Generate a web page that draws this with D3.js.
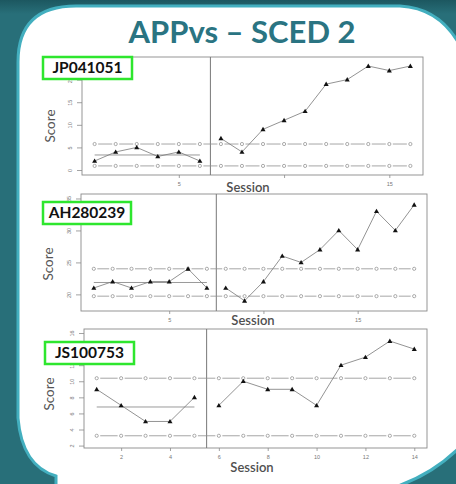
<!DOCTYPE html>
<html><head><meta charset="utf-8">
<script src="https://cdn.jsdelivr.net/npm/d3@7"></script>
<style>html,body{margin:0;padding:0;background:#286f79;}svg{display:block;}</style>
</head><body>
<script>
// ---- data ----
const titleText = "APPvs – SCED 2";
const participantIds = ["JP041051", "AH280239", "JS100753"];

const p1Baseline = [2, 4, 5, 3, 4, 2];
const p1Treatment = [7, 4, 9, 11, 13, 19, 20, 23, 22, 23];
const p1Bands = {mean: 3.33, upper: 5.75, lower: 0.91};
const p1YTicks = [0, 5, 10, 15, 20];
const p1XTicks = [5, 10, 15];
const p1XTickLabels = ["5", "", "15"];

const p2Baseline = [21, 22, 21, 22, 22, 24, 21];
const p2Treatment = [21, 19, 22, 26, 25, 27, 30, 27, 33, 30, 34];
const p2Bands = {mean: 21.86, upper: 24.0, lower: 19.72};
const p2YTicks = [20, 25, 30, 35];
const p2XTicks = [5, 10, 15];
const p2XTickLabels = ["5", "", "15"];

const p3Baseline = [9, 7, 5, 5, 8];
const p3Treatment = [7, 10, 9, 9, 7, 12, 13, 15, 14];
const p3Bands = {mean: 6.8, upper: 10.38, lower: 3.22};
const p3YTicks = [2, 4, 6, 8, 10, 12, 14, 16];
const p3XTicks = [2, 4, 6, 8, 10, 12, 14];
const p3XTickLabels = ["2", "4", "6", "8", "10", "12", "14"];

// ---- layout ----
const W = 456, H = 484;
const layouts = [
  {l: 82, r: 423, t: 57, b: 175, xd: [0.4, 16.6], yd: [-1.1, 25.0],
   box: [43, 57, 89, 22], score: [52, 126], session: [248, 189]},
  {l: 81, r: 427, t: 194, b: 311, xd: [0.32, 18.68], yd: [17.4, 35.7],
   box: [43, 202, 88, 22], score: [50, 264], session: [253, 322]},
  {l: 84, r: 427, t: 329, b: 448, xd: [0.48, 14.52], yd: [1.7, 16.5],
   box: [45, 342, 89, 22], score: [51, 394], session: [252, 469]}
];
const panels = [
  {A: p1Baseline, B: p1Treatment, bands: p1Bands, yt: p1YTicks, xt: p1XTicks, xl: p1XTickLabels},
  {A: p2Baseline, B: p2Treatment, bands: p2Bands, yt: p2YTicks, xt: p2XTicks, xl: p2XTickLabels},
  {A: p3Baseline, B: p3Treatment, bands: p3Bands, yt: p3YTicks, xt: p3XTicks, xl: p3XTickLabels}
];

const svg = d3.select("body").append("svg").attr("width", W).attr("height", H);
const defs = svg.append("defs");
const g1 = defs.append("linearGradient").attr("id", "topshade").attr("x1", 0).attr("y1", 0).attr("x2", 0).attr("y2", 1);
g1.append("stop").attr("offset", 0).attr("stop-color", "#1c5760");
g1.append("stop").attr("offset", 1).attr("stop-color", "#286f79");
svg.append("rect").attr("width", W).attr("height", H).attr("fill", "#286f79");
svg.append("rect").attr("width", W).attr("height", 14).attr("fill", "url(#topshade)");

// slide white card
svg.append("path")
  .attr("d", "M18,62 Q18,6 76,6 L400,6 Q438,8 458,42 L458,449 Q432,474 398,486 L56,486 L56,476 Q22,466 18,418 Z")
  .attr("fill", "#ffffff").attr("stroke", "#43afbf").attr("stroke-width", 3);

svg.append("text").attr("x", 242).attr("y", 43).attr("text-anchor", "middle")
  .attr("font-family", "Lato, 'Open Sans', sans-serif").attr("font-weight", 700)
  .attr("font-size", 31).attr("fill", "#2a7482").text(titleText);

const tri = d3.symbol().type(d3.symbolTriangle).size(11);
const gridGrey = "#8f8f8f";

panels.forEach((p, i) => {
  const L = layouts[i];
  const g = svg.append("g");
  const x = d3.scaleLinear().domain(L.xd).range([L.l, L.r]);
  const y = d3.scaleLinear().domain(L.yd).range([L.b, L.t]);
  const nA = p.A.length, nB = p.B.length, n = nA + nB;
  const sessions = d3.range(1, n + 1);
  const ptsA = p.A.map((v, k) => [k + 1, v]);
  const ptsB = p.B.map((v, k) => [nA + k + 1, v]);

  // frame
  g.append("rect").attr("x", L.l).attr("y", L.t).attr("width", L.r - L.l).attr("height", L.b - L.t)
    .attr("fill", "none").attr("stroke", "#8a8a8a").attr("stroke-width", 0.9);

  // y axis
  const ya = g.append("g").attr("transform", `translate(${L.l},0)`)
    .call(d3.axisLeft(y).tickValues(p.yt).tickSize(5).tickPadding(0).tickFormat(d3.format("d")));
  ya.select(".domain").remove();
  ya.selectAll(".tick line").attr("stroke", "#8a8a8a").attr("stroke-width", 0.8);
  ya.selectAll(".tick text").attr("font-family", "Arial, 'Liberation Sans', sans-serif").attr("font-size", 5.5)
    .attr("fill", "#777").attr("text-anchor", "middle").attr("x", 0).attr("dy", 0)
    .attr("transform", "translate(-11,0) rotate(-90)").attr("dominant-baseline", "middle");

  // x axis
  const xa = g.append("g").attr("transform", `translate(0,${L.b})`)
    .call(d3.axisBottom(x).tickValues(p.xt).tickSize(3).tickPadding(4)
      .tickFormat((d, k) => p.xl[k]));
  xa.select(".domain").remove();
  xa.selectAll(".tick line").attr("stroke", "#8a8a8a").attr("stroke-width", 0.8);
  xa.selectAll(".tick text").attr("font-family", "Arial, 'Liberation Sans', sans-serif").attr("font-size", 5.5).attr("fill", "#777");

  // phase change line
  g.append("line").attr("x1", x(nA + 0.5)).attr("x2", x(nA + 0.5)).attr("y1", L.t).attr("y2", L.b)
    .attr("stroke", "#777").attr("stroke-width", 1);

  // band lines (open circles joined by broken segments)
  [p.bands.upper, p.bands.lower].forEach(v => {
    const segs = d3.pairs(sessions);
    g.selectAll(null).data(segs).enter().append("line")
      .attr("x1", d => x(d[0]) + 3.5).attr("x2", d => x(d[1]) - 3.5)
      .attr("y1", y(v)).attr("y2", y(v))
      .attr("stroke", gridGrey).attr("stroke-width", 0.8);
    g.selectAll(null).data(sessions).enter().append("circle")
      .attr("cx", d => x(d)).attr("cy", y(v)).attr("r", 1.6)
      .attr("fill", "#fff").attr("stroke", "#8a8a8a").attr("stroke-width", 0.7);
  });

  // baseline mean line
  g.append("line").attr("x1", x(1)).attr("x2", x(nA)).attr("y1", y(p.bands.mean)).attr("y2", y(p.bands.mean))
    .attr("stroke", "#9a9a9a").attr("stroke-width", 1);

  // data lines
  const line = d3.line().x(d => x(d[0])).y(d => y(d[1]));
  [ptsA, ptsB].forEach(pts => {
    g.append("path").attr("d", line(pts)).attr("fill", "none").attr("stroke", "#777").attr("stroke-width", 0.8);
    g.selectAll(null).data(pts).enter().append("path").attr("d", tri)
      .attr("transform", d => `translate(${x(d[0])},${y(d[1]) + 0.4})`).attr("fill", "#111");
  });

  // axis titles
  g.append("text").attr("transform", `translate(${L.score[0]},${L.score[1]}) rotate(-90)`)
    .attr("text-anchor", "middle").attr("dominant-baseline", "middle")
    .attr("font-family", "Lato, 'Open Sans', sans-serif").attr("font-size", 13.5).attr("fill", "#555").text("Score");
  g.append("text").attr("x", L.session[0]).attr("y", L.session[1]).attr("text-anchor", "middle")
    .attr("dominant-baseline", "middle")
    .attr("font-family", "Lato, 'Open Sans', sans-serif").attr("font-weight", 600).attr("font-size", 13).attr("fill", "#505050").text("Session");

  // participant label
  const bx = L.box;
  g.append("rect").attr("x", bx[0]).attr("y", bx[1]).attr("width", bx[2]).attr("height", bx[3])
    .attr("fill", "#fff").attr("stroke", "#2ee62e").attr("stroke-width", 2.5);
  g.append("text").attr("x", bx[0] + bx[2] / 2).attr("y", bx[1] + bx[3] / 2 + 1)
    .attr("text-anchor", "middle").attr("dominant-baseline", "middle")
    .attr("font-family", "Lato, 'Open Sans', sans-serif").attr("font-weight", 700).attr("font-size", 15.5)
    .attr("fill", "#111").text(participantIds[i]);
});
</script>
</body></html>
